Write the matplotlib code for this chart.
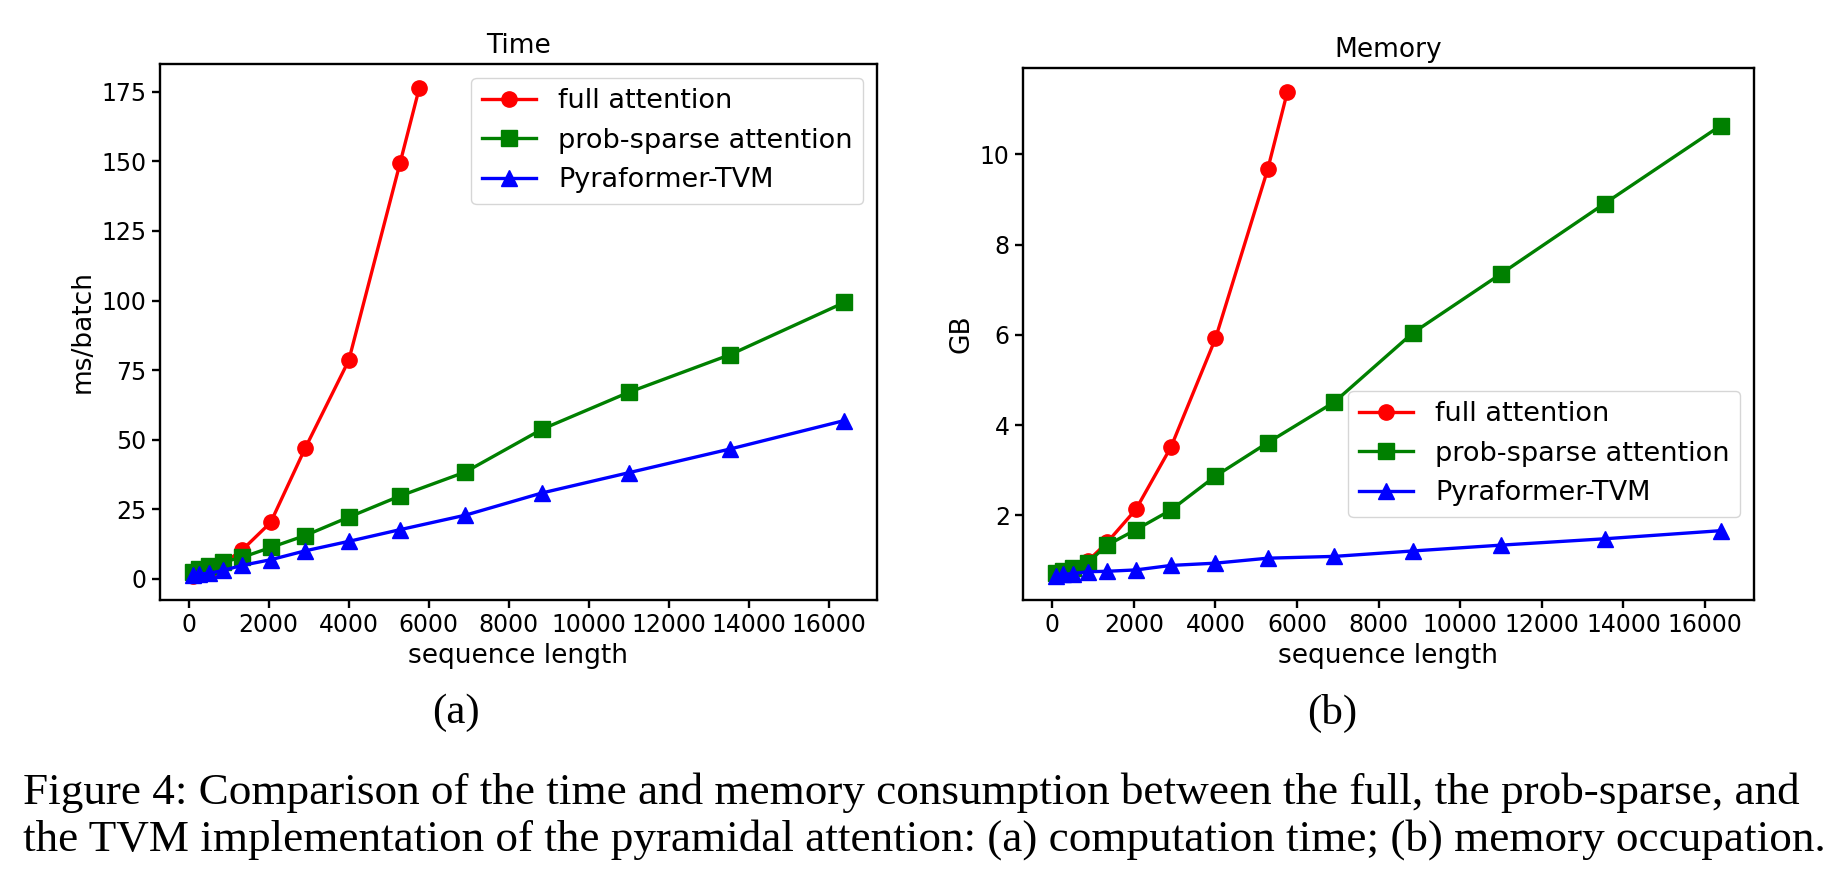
import numpy as np
import matplotlib
matplotlib.use('Agg')
import matplotlib.pyplot as plt

# sequence lengths
x_full = [96, 256, 512, 864, 1344, 2048, 2912, 4000, 5280, 5760]
x_other = [96, 256, 512, 864, 1344, 2048, 2912, 4000, 5280, 6912, 8832, 11008, 13536, 16384]

# (a) time in ms/batch
time_full = [1.2, 1.8, 3.0, 5.5, 10.5, 20.3, 47.0, 78.5, 149.3, 176.2]
time_prob = [2.6, 3.5, 4.7, 6.1, 7.8, 11.3, 15.6, 22.2, 29.8, 38.4, 53.8, 67.1, 80.6, 99.3]
time_tvm = [1.5, 1.8, 2.0, 3.1, 4.9, 6.9, 10.1, 13.5, 17.7, 22.9, 30.9, 38.2, 46.7, 56.9]

# (b) memory in GB
mem_full = [0.68, 0.72, 0.80, 0.98, 1.40, 2.13, 3.52, 5.92, 9.67, 11.38]
mem_prob = [0.72, 0.76, 0.84, 0.95, 1.34, 1.68, 2.12, 2.87, 3.61, 4.51, 6.04, 7.36, 8.91, 10.64]
mem_tvm = [0.66, 0.69, 0.71, 0.75, 0.76, 0.79, 0.89, 0.94, 1.05, 1.09, 1.21, 1.34, 1.48, 1.66]

labels = ['full attention', 'prob-sparse attention', 'Pyraformer-TVM']

caption_1 = ("Figure 4: Comparison of the time and memory consumption between the full, "
             "the prob-sparse, and")
caption_2 = ("the TVM implementation of the pyramidal attention: (a) computation time; "
             "(b) memory occupation.")

plt.rcParams['font.family'] = 'DejaVu Sans'
plt.rcParams['axes.linewidth'] = 1.7
plt.rcParams['xtick.major.width'] = 1.7
plt.rcParams['ytick.major.width'] = 1.7
plt.rcParams['xtick.major.size'] = 6
plt.rcParams['ytick.major.size'] = 6

fig = plt.figure(figsize=(18.32, 8.84), dpi=100)
ax1 = fig.add_axes([0.0873, 0.3213, 0.3914, 0.6063])
ax2 = fig.add_axes([0.5584, 0.3213, 0.3990, 0.6018])

line_kw = dict(linewidth=2.4, markersize=11)


def draw_panel(ax, y_full, y_prob, y_tvm, title, ylabel):
    ax.plot(x_full, y_full, color='r', marker='o', label=labels[0], **line_kw)
    ax.plot(x_other, y_prob, color='g', marker='s', label=labels[1], **line_kw)
    ax.plot(x_other, y_tvm, color='b', marker='^', label=labels[2], **line_kw)
    ax.set_title(title, fontsize=19, pad=8)
    ax.set_xlabel('sequence length', fontsize=19, labelpad=4)
    ax.set_ylabel(ylabel, fontsize=19)
    ax.set_xticks(np.arange(0, 16001, 2000))
    ax.tick_params(labelsize=17)


draw_panel(ax1, time_full, time_prob, time_tvm, 'Time', 'ms/batch')
ax1.set_yticks(np.arange(0, 176, 25))
ax1.legend(loc='upper right', fontsize=19.5)

draw_panel(ax2, mem_full, mem_prob, mem_tvm, 'Memory', 'GB')
ax2.set_yticks([2, 4, 6, 8, 10])
ax2.legend(loc='lower right', bbox_to_anchor=(1.0, 0.13), fontsize=19.5)

serif = 'Liberation Serif'
fig.text(456 / 1832, 1 - 713 / 884, '(a)', family=serif, fontsize=31, ha='center', va='center')
fig.text(1332 / 1832, 1 - 713 / 884, '(b)', family=serif, fontsize=31, ha='center', va='center')
fig.text(23 / 1832, 1 - 793 / 884, caption_1, family=serif, fontsize=32.5, ha='left', va='center')
fig.text(23 / 1832, 1 - 840 / 884, caption_2, family=serif, fontsize=32.5, ha='left', va='center')

fig.savefig('out.png', dpi=100)
